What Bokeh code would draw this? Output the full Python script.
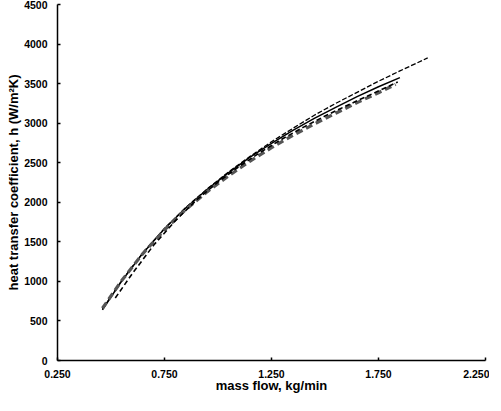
from bokeh.plotting import figure
from bokeh.models import Range1d, FixedTicker
from bokeh.embed import file_html
from bokeh.resources import INLINE

# Curve A (thin dashed, longest)
m_a = [0.46, 0.55, 0.65, 0.75, 0.85, 0.95, 1.05, 1.15, 1.25, 1.35, 1.45, 1.55, 1.65, 1.75, 1.85, 1.98]
h_a = [650, 1010, 1365, 1670, 1935, 2170, 2385, 2580, 2765, 2935, 3100, 3250, 3390, 3530, 3660, 3825]

# Curve B (solid)
m_b = [0.46, 0.55, 0.65, 0.75, 0.85, 0.95, 1.05, 1.15, 1.25, 1.35, 1.45, 1.55, 1.65, 1.75, 1.85]
h_b = [640, 1005, 1360, 1665, 1930, 2165, 2375, 2570, 2745, 2910, 3060, 3200, 3335, 3460, 3575]

# Curve C (thick grey dashed)
m_c = [0.46, 0.55, 0.65, 0.75, 0.85, 0.95, 1.05, 1.15, 1.25, 1.35, 1.45, 1.55, 1.65, 1.75, 1.83]
h_c = [660, 1010, 1355, 1650, 1910, 2135, 2335, 2520, 2690, 2845, 2990, 3125, 3260, 3385, 3490]

# Curve D (black dashed, starts lower)
m_d = [0.52, 0.60, 0.70, 0.80, 0.90, 1.00, 1.10, 1.20, 1.30, 1.40, 1.50, 1.60, 1.70, 1.84]
h_d = [790, 1100, 1460, 1765, 2030, 2255, 2455, 2635, 2800, 2950, 3090, 3220, 3345, 3520]

x_ticks = [0.25, 0.75, 1.25, 1.75, 2.25]
x_tick_labels = ["0.250", "0.750", "1.250", "1.750", "2.250"]
y_ticks = [0, 500, 1000, 1500, 2000, 2500, 3000, 3500, 4000, 4500]
x_title = "mass flow, kg/min"
y_title = "heat transfer coefficient, h (W/m\u00b2K)"

FONT = "Liberation Sans"

p = figure(width=489, height=395, output_backend="svg", toolbar_location=None,
           x_range=Range1d(0.25, 2.25), y_range=Range1d(0, 4500),
           min_border_left=57, min_border_right=4, min_border_top=4, min_border_bottom=0)
p.outline_line_color = None
p.xgrid.visible = False
p.ygrid.visible = False

p.line(m_a, h_a, line_color="black", line_width=1.3, line_dash="5 2")
p.line(m_b, h_b, line_color="black", line_width=1.5)
p.line(m_c, h_c, line_color="#555555", line_width=3.2, line_dash="7 4")
p.line(m_d, h_d, line_color="black", line_width=1.6, line_dash="5 3")

for ax in (p.xaxis[0], p.yaxis[0]):
    ax.major_tick_in = 3
    ax.major_tick_out = 0
    ax.minor_tick_in = 0
    ax.minor_tick_out = 0
    ax.axis_line_width = 1.5
    ax.axis_line_color = "black"
    ax.major_tick_line_width = 1.5
    ax.major_label_text_font = FONT
    ax.major_label_text_font_style = "bold"
    ax.major_label_text_font_size = "10.5px"
    ax.major_label_text_color = "black"
    ax.axis_label_text_font = FONT
    ax.axis_label_text_font_style = "bold"
    ax.axis_label_text_font_size = "13px"
    ax.axis_label_text_color = "black"

p.xaxis[0].ticker = FixedTicker(ticks=x_ticks)
p.xaxis[0].major_label_overrides = {t: l for t, l in zip(x_ticks, x_tick_labels)}
p.xaxis[0].major_label_standoff = 9
p.xaxis[0].axis_label = x_title
p.xaxis[0].axis_label_standoff = -3

p.yaxis[0].ticker = FixedTicker(ticks=y_ticks)
p.yaxis[0].major_label_standoff = 10
p.yaxis[0].axis_label = y_title
p.yaxis[0].axis_label_standoff = 0

open("out.html", "w").write(file_html(p, INLINE))
